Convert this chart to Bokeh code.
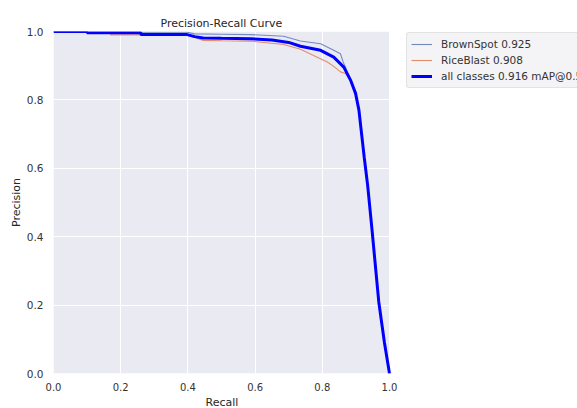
from bokeh.plotting import figure
from bokeh.models import (Legend, LegendItem, FixedTicker, Range1d, NumeralTickFormatter,
                          BoxAnnotation, Title)
from bokeh.embed import file_html
from bokeh.resources import INLINE

# ---- data ----
recall_all = [0.0, 0.10, 0.10, 0.26, 0.26, 0.398, 0.42, 0.446, 0.50, 0.586, 0.65, 0.70,
              0.735, 0.795, 0.834, 0.864, 0.884, 0.899, 0.909, 0.917, 0.925, 0.935,
              0.948, 0.968, 0.985, 1.0]
prec_all = [1.0, 1.0, 0.996, 0.996, 0.991, 0.991, 0.985, 0.981, 0.980, 0.979, 0.975, 0.968,
            0.957, 0.945, 0.925, 0.896, 0.858, 0.819, 0.770, 0.700, 0.630, 0.550,
            0.420, 0.210, 0.090, 0.0]

recall_brown = [0.0, 0.10, 0.10, 0.398, 0.42, 0.50, 0.586, 0.685, 0.735, 0.795, 0.834,
                0.854, 0.862, 0.868, 0.884, 0.899, 0.909, 0.917, 0.925, 0.935, 0.948,
                0.968, 0.985, 1.0]
prec_brown = [1.0, 1.0, 0.998, 0.998, 0.993, 0.992, 0.991, 0.986, 0.972, 0.964, 0.945,
              0.935, 0.911, 0.898, 0.858, 0.819, 0.770, 0.700, 0.630, 0.550, 0.420,
              0.210, 0.090, 0.0]

recall_rice = [0.0, 0.10, 0.10, 0.17, 0.17, 0.398, 0.446, 0.50, 0.586, 0.685, 0.735,
               0.785, 0.815, 0.834, 0.854, 0.869, 0.884, 0.899, 0.909, 0.917, 0.925,
               0.935, 0.948, 0.968, 0.985, 1.0]
prec_rice = [1.0, 1.0, 0.994, 0.994, 0.990, 0.990, 0.974, 0.973, 0.972, 0.962, 0.948,
             0.925, 0.911, 0.898, 0.882, 0.877, 0.858, 0.819, 0.770, 0.700, 0.630,
             0.550, 0.420, 0.210, 0.090, 0.0]

labels = ["BrownSpot 0.925", "RiceBlast 0.908", "all classes 0.916 mAP@0.5"]
ticks = [0.0, 0.2, 0.4, 0.6, 0.8, 1.0]

# frame spans the whole width; the axes area (0..1) is drawn as a shaded box,
# the rest of the frame holds the legend (as in the reference, where it is cut at the edge)
W, H = 577, 408
LEFT, TOP, BOTTOM = 53, 31, 33
AX_W = 336  # pixel width of the 0..1 recall span
x_end = (W - LEFT) / AX_W

p = figure(width=W, height=H, output_backend="svg", toolbar_location=None,
           x_range=Range1d(0, x_end), y_range=Range1d(0, 1),
           min_border_left=LEFT, min_border_right=0, min_border_top=TOP,
           min_border_bottom=BOTTOM)
p.background_fill_color = "white"
p.border_fill_color = "white"
p.outline_line_color = None
p.title = None

p.add_layout(BoxAnnotation(left=0, right=1, bottom=0, top=1, fill_color="#EAEAF2",
                           fill_alpha=1, line_color=None, level="image"))

for ax in (p.xaxis[0], p.yaxis[0]):
    ax.ticker = FixedTicker(ticks=ticks)
    ax.formatter = NumeralTickFormatter(format="0.0")
    ax.axis_line_color = None
    ax.major_tick_line_color = None
    ax.minor_tick_line_color = None
    ax.major_label_text_font = "DejaVu Sans"
    ax.major_label_text_font_size = "10.5px"
    ax.major_label_text_color = "#333333"
    ax.axis_label_text_font = "DejaVu Sans"
    ax.axis_label_text_font_size = "11px"
    ax.axis_label_text_font_style = "normal"
    ax.axis_label_text_color = "#262626"
p.xaxis.major_label_text_font_size = "10px"
p.xaxis.major_label_standoff = 3
p.yaxis.major_label_standoff = 4
p.yaxis.axis_label_standoff = 1
p.yaxis.axis_label = "Precision"

# x-axis label and title, centred over the 0..1 span
p.add_layout(Title(text="Recall", align="left", offset=205 - LEFT, standoff=0,
                   text_font="DejaVu Sans", text_font_size="11px",
                   text_font_style="normal", text_color="#262626"), "below")
p.add_layout(Title(text="Precision-Recall Curve", align="left", offset=160 - LEFT,
                   standoff=3, text_font="DejaVu Sans", text_font_size="11px",
                   text_font_style="normal", text_color="#262626"), "above")

p.xgrid.ticker = FixedTicker(ticks=ticks)
p.ygrid.ticker = FixedTicker(ticks=ticks)
p.ygrid.cross_bounds = (0, 1)
p.grid.grid_line_color = "white"
p.grid.grid_line_width = 1

r1 = p.line(recall_brown, prec_brown, line_color="#7289C2", line_width=1.1)
r2 = p.line(recall_rice, prec_rice, line_color="#E48C68", line_width=1.1)
r3 = p.line(recall_all, prec_all, line_color="#0000FF", line_width=3)

legend = Legend(items=[LegendItem(label=labels[0], renderers=[r1]),
                       LegendItem(label=labels[1], renderers=[r2]),
                       LegendItem(label=labels[2], renderers=[r3])],
                location=(353, 285))
legend.label_text_font = "DejaVu Sans"
legend.label_text_font_size = "10.5px"
legend.label_text_color = "#333333"
legend.background_fill_color = "#F4F4F7"
legend.background_fill_alpha = 1
legend.border_line_color = "#D0D0D0"
legend.border_radius = 3
legend.glyph_width = 21
legend.glyph_height = 14
legend.label_height = 14
legend.spacing = 2
legend.padding = 4
legend.margin = 0
legend.label_standoff = 9
p.add_layout(legend, "center")

open("out.html", "w").write(file_html(p, INLINE))
